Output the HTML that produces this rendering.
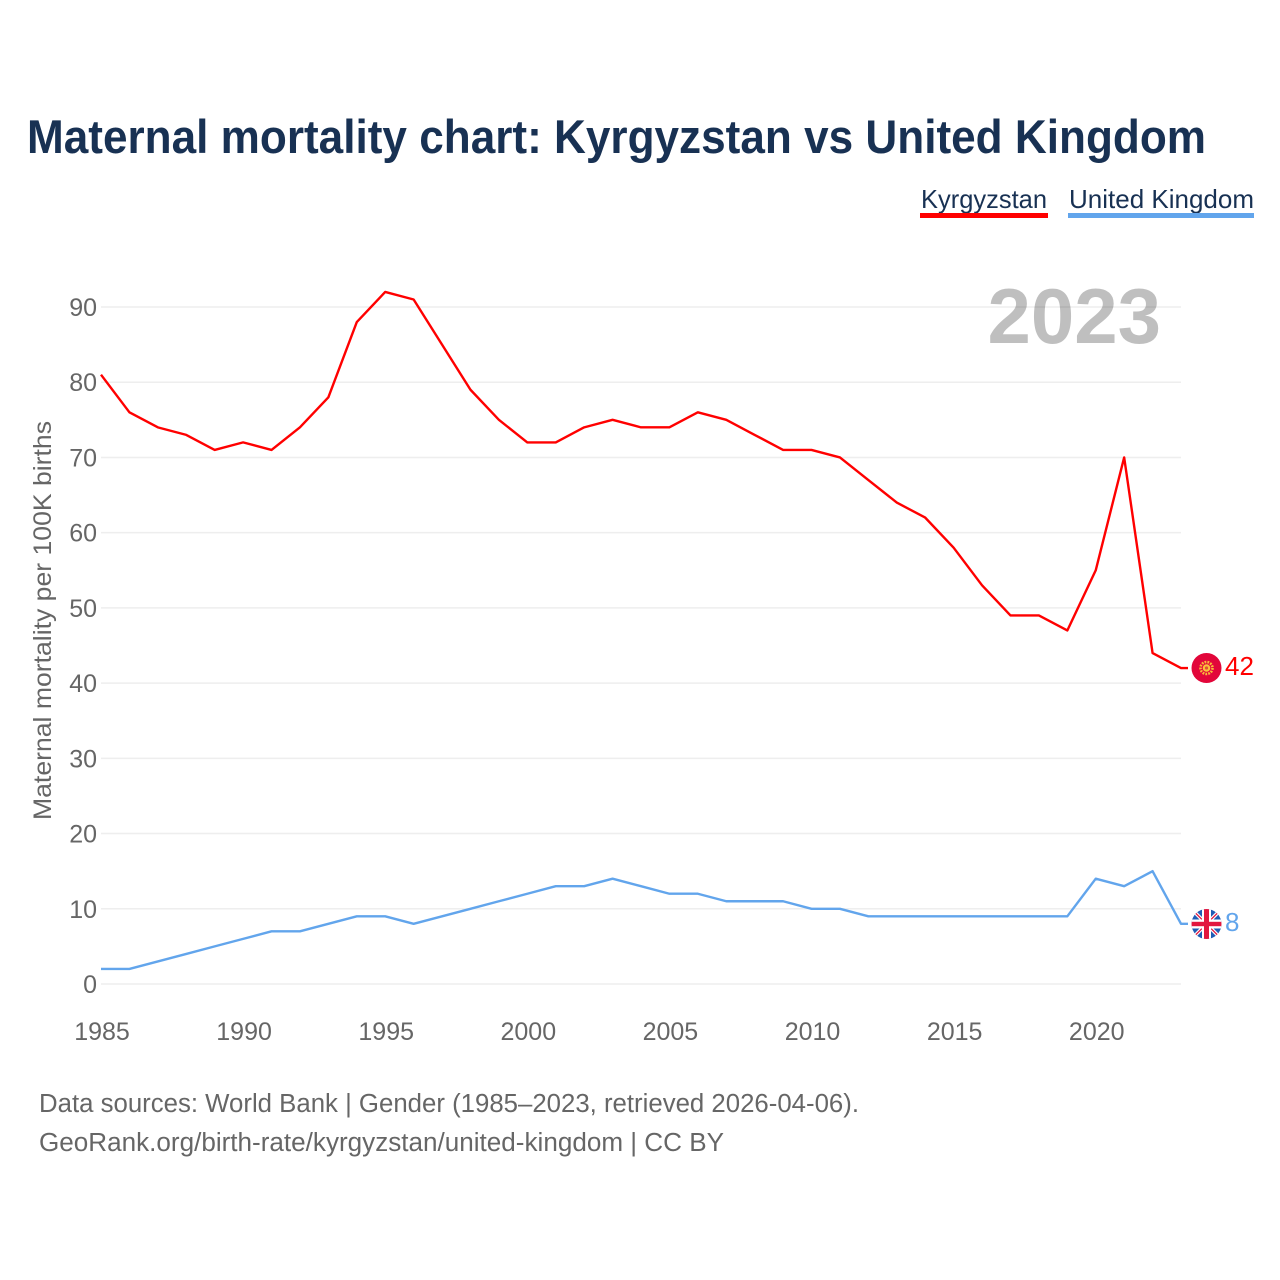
<!DOCTYPE html>
<html lang="en">
<head>
<meta charset="utf-8">
<title>Maternal mortality chart: Kyrgyzstan vs United Kingdom</title>
<style>
  html, body { margin: 0; padding: 0; background: #fff; }
  svg { display: block; font-family: "Liberation Sans", sans-serif; }
</style>
</head>
<body>
<svg id="chart" width="1280" height="1280" viewBox="0 0 1280 1280" xmlns="http://www.w3.org/2000/svg">
  <rect width="1280" height="1280" fill="#ffffff"/>
  <text x="27" y="153" font-size="47" font-weight="700" fill="#183153" textLength="1179" lengthAdjust="spacingAndGlyphs">Maternal mortality chart: Kyrgyzstan vs United Kingdom</text>

  <g>
    <g>
      <text x="921" y="208" font-size="26" fill="#183153" textLength="126" lengthAdjust="spacingAndGlyphs">Kyrgyzstan</text>
      <rect x="920" y="213" width="128" height="5" fill="#ff0000"/>
    </g>
    <g>
      <text x="1069" y="208" font-size="26" fill="#183153" textLength="185" lengthAdjust="spacingAndGlyphs">United Kingdom</text>
      <rect x="1068" y="213" width="186" height="5" fill="#62a5ec"/>
    </g>
  </g>

  <g id="grid"></g>
  <g id="yticks"></g>
  <g id="xticks"></g>

  <text transform="translate(51,820) rotate(-90)" font-size="25" fill="#666666" textLength="399" lengthAdjust="spacingAndGlyphs">Maternal mortality per 100K births</text>

  <text x="1161" y="343" text-anchor="end" font-size="78" font-weight="700" fill="#000000" fill-opacity="0.25">2023</text>

  <g id="series"></g>

  <defs>
    <clipPath id="flag-clip-uk"><circle cx="1206.5" cy="924" r="15"/></clipPath>
  </defs>

  <g>
    <circle cx="1206.5" cy="668" r="15" fill="#e2063a"/>
    <circle cx="1206.5" cy="668" r="6" fill="none" stroke="#f9b93a" stroke-width="2.6" stroke-dasharray="1.8 1.1"/>
    <circle cx="1206.5" cy="668" r="3.8" fill="#f9c23a"/>
    <circle cx="1206.5" cy="668" r="1.6" fill="#e0503a"/>
  </g>

  <g clip-path="url(#flag-clip-uk)">
    <rect x="1191" y="909" width="31" height="30" fill="#1f5cb5"/>
    <path d="M1191.5 909 L1221.5 939 M1221.5 909 L1191.5 939" stroke="#ffffff" stroke-width="3.6"/>
    <path d="M1191.5 909 L1221.5 939 M1221.5 909 L1191.5 939" stroke="#e2173f" stroke-width="1.3"/>
    <rect x="1202" y="909" width="9" height="30" fill="#ffffff"/>
    <rect x="1191" y="919.5" width="31" height="9" fill="#ffffff"/>
    <rect x="1204" y="909" width="5" height="30" fill="#e2173f"/>
    <rect x="1191" y="921.8" width="31" height="4.4" fill="#e2173f"/>
  </g>

  <text id="end-label-kyrgyzstan" x="1225" y="675" font-size="26" fill="#ff0000"></text>
  <text id="end-label-uk" x="1225" y="931" font-size="26" fill="#62a5ec"></text>

  <g>
    <text x="39" y="1112" font-size="25.5" fill="#666666" textLength="820" lengthAdjust="spacingAndGlyphs">Data sources: World Bank | Gender (1985–2023, retrieved 2026-04-06).</text>
    <text x="39" y="1151" font-size="25.5" fill="#666666" textLength="685" lengthAdjust="spacingAndGlyphs">GeoRank.org/birth-rate/kyrgyzstan/united-kingdom | CC BY</text>
  </g>
</svg>

<script>
const years = [1985,1986,1987,1988,1989,1990,1991,1992,1993,1994,1995,1996,1997,1998,1999,2000,2001,2002,2003,2004,2005,2006,2007,2008,2009,2010,2011,2012,2013,2014,2015,2016,2017,2018,2019,2020,2021,2022,2023];
const kyrgyzstanValues = [81,76,74,73,71,72,71,74,78,88,92,91,85,79,75,72,72,74,75,74,74,76,75,73,71,71,70,67,64,62,58,53,49,49,47,55,70,44,42];
const unitedKingdomValues = [2,2,3,4,5,6,7,7,8,9,9,8,9,10,11,12,13,13,14,13,12,12,11,11,11,10,10,9,9,9,9,9,9,9,9,14,13,15,8];
const yTickValues = [0,10,20,30,40,50,60,70,80,90];
const xTickValues = [1985,1990,1995,2000,2005,2010,2015,2020];

const NS = 'http://www.w3.org/2000/svg';
function xScale(year) { return 101 + (year - 1985) * (1080 / 38); }
function yScale(value) { return 984 - value * (677 / 90); }

const gridGroup = document.getElementById('grid');
const yTickGroup = document.getElementById('yticks');
yTickValues.forEach(function (tick) {
  const line = document.createElementNS(NS, 'line');
  
  
  line.setAttribute('x1', 101);
  line.setAttribute('x2', 1181);
  line.setAttribute('y1', yScale(tick));
  line.setAttribute('y2', yScale(tick));
  line.setAttribute('stroke', '#eeeeee');
  line.setAttribute('stroke-width', 1.5);
  gridGroup.appendChild(line);

  const label = document.createElementNS(NS, 'text');
  
  
  label.setAttribute('x', 97);
  label.setAttribute('y', yScale(tick) + 9);
  label.setAttribute('text-anchor', 'end');
  label.setAttribute('font-size', 25);
  label.setAttribute('fill', '#666666');
  label.textContent = tick;
  yTickGroup.appendChild(label);
});

const xTickGroup = document.getElementById('xticks');
xTickValues.forEach(function (tick) {
  const label = document.createElementNS(NS, 'text');
  
  
  label.setAttribute('x', xScale(tick) + 1);
  label.setAttribute('y', 1040);
  label.setAttribute('text-anchor', 'middle');
  label.setAttribute('font-size', 25);
  label.setAttribute('fill', '#666666');
  label.textContent = tick;
  xTickGroup.appendChild(label);
});

function pointsFor(values) {
  const pts = values.map(function (value, i) {
    return xScale(years[i]).toFixed(2) + ',' + yScale(value).toFixed(2);
  });
  // short horizontal connector from the last point toward the flag
  pts.push('1188,' + yScale(values[values.length - 1]).toFixed(2));
  return pts.join(' ');
}

const seriesGroup = document.getElementById('series');

const ukLine = document.createElementNS(NS, 'polyline');


ukLine.setAttribute('points', pointsFor(unitedKingdomValues));
ukLine.setAttribute('fill', 'none');
ukLine.setAttribute('stroke', '#62a5ec');
ukLine.setAttribute('stroke-width', 2.4);
ukLine.setAttribute('stroke-linejoin', 'round');
seriesGroup.appendChild(ukLine);

const kgLine = document.createElementNS(NS, 'polyline');


kgLine.setAttribute('points', pointsFor(kyrgyzstanValues));
kgLine.setAttribute('fill', 'none');
kgLine.setAttribute('stroke', '#ff0000');
kgLine.setAttribute('stroke-width', 2.4);
kgLine.setAttribute('stroke-linejoin', 'round');
seriesGroup.appendChild(kgLine);

document.getElementById('end-label-kyrgyzstan').textContent = kyrgyzstanValues[kyrgyzstanValues.length - 1];
document.getElementById('end-label-uk').textContent = unitedKingdomValues[unitedKingdomValues.length - 1];
</script>
</body>
</html>
